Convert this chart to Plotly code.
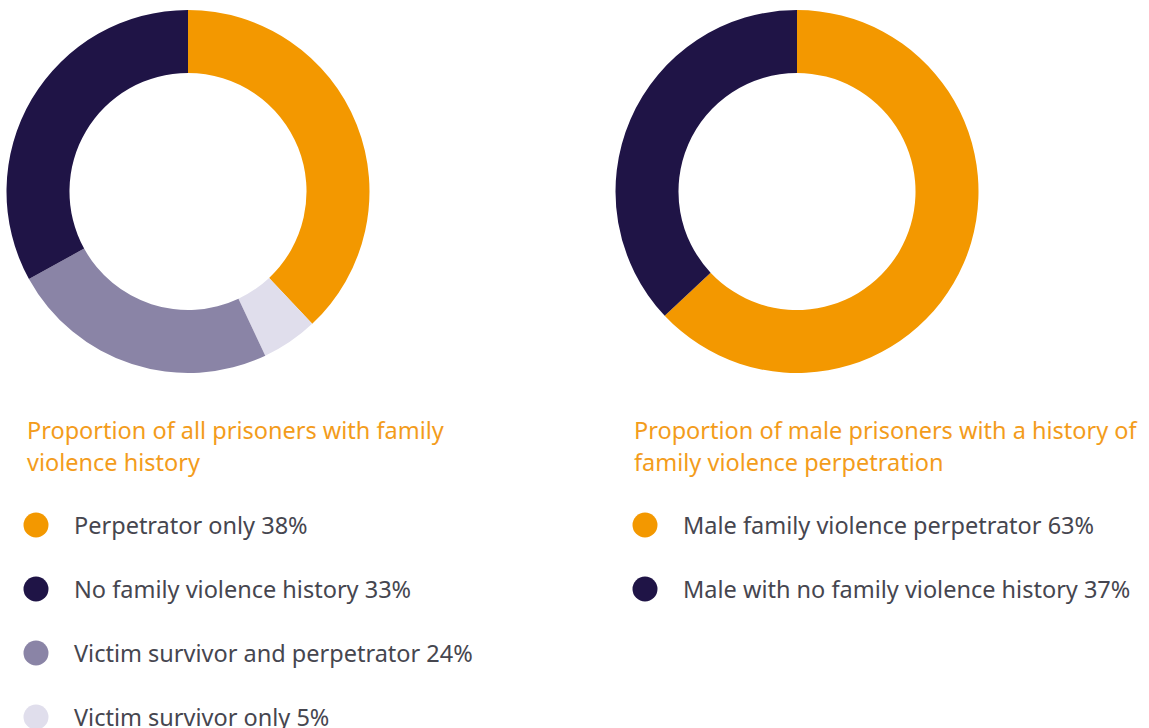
import plotly.graph_objects as go

W, H = 1149, 728

# Left chart data (slice order clockwise from top)
left_labels = ["Perpetrator only", "Victim survivor only", "Victim survivor and perpetrator", "No family violence history"]
left_values = [38, 5, 24, 33]
left_colors = ["#F39800", "#E0DEEC", "#8A84A6", "#1F1446"]

# Left legend order
left_legend_labels = ["Perpetrator only 38%", "No family violence history 33%",
                      "Victim survivor and perpetrator 24%", "Victim survivor only 5%"]
left_legend_colors = ["#F39800", "#1F1446", "#8A84A6", "#E0DEEC"]

# Right chart data
right_labels = ["Male family violence perpetrator", "Male with no family violence history"]
right_values = [63, 37]
right_colors = ["#F39800", "#1F1446"]
right_legend_labels = ["Male family violence perpetrator 63%", "Male with no family violence history 37%"]
right_legend_colors = ["#F39800", "#1F1446"]

left_title = ["Proportion of all prisoners with family", "violence history"]
right_title = ["Proportion of male prisoners with a history of", "family violence perpetration"]

FONT = "Noto Sans"
TEXT_COLOR = "#46464F"
TITLE_COLOR = "#F39C1B"
FS = 23.5

def px_x(x):
    return x / W

def px_y(y):
    return 1 - y / H

R = 181.5
cy = 191.5
fig = go.Figure()
for cx, labels, values, colors in [(188, left_labels, left_values, left_colors),
                                   (797, right_labels, right_values, right_colors)]:
    fig.add_trace(go.Pie(
        labels=labels, values=values, hole=0.653, sort=False, direction="clockwise",
        rotation=0, marker=dict(colors=colors, line=dict(width=0)),
        textinfo="none", hoverinfo="label+percent", showlegend=False,
        domain=dict(x=[px_x(cx - R), px_x(cx + R)], y=[px_y(cy + R), px_y(cy - R)]),
    ))

annotations = []
shapes = []

def add_block(x_text, x_circle, title_lines, labels, colors):
    for i, line in enumerate(title_lines):
        annotations.append(dict(
            x=px_x(x_text - 1), y=px_y(430 + 32 * i), xref="paper", yref="paper",
            xanchor="left", yanchor="middle", showarrow=False, text=line,
            font=dict(family=FONT, size=FS, color=TITLE_COLOR)))
    for i, (lab, col) in enumerate(zip(labels, colors)):
        yc = 525 + 64 * i
        shapes.append(dict(type="circle", xref="paper", yref="paper",
                           x0=px_x(x_circle - 12.5), x1=px_x(x_circle + 12.5),
                           y0=px_y(yc + 12.5), y1=px_y(yc - 12.5),
                           fillcolor=col, line=dict(width=0)))
        annotations.append(dict(
            x=px_x(x_circle + 36), y=px_y(yc), xref="paper", yref="paper",
            xanchor="left", yanchor="middle", showarrow=False, text=lab,
            font=dict(family=FONT, size=FS, color=TEXT_COLOR)))

add_block(26, 36, left_title, left_legend_labels, left_legend_colors)
add_block(633, 645, right_title, right_legend_labels, right_legend_colors)

fig.update_layout(
    width=W, height=H, margin=dict(l=0, r=0, t=0, b=0),
    paper_bgcolor="white", plot_bgcolor="white",
    annotations=annotations, shapes=shapes,
)
fig.write_html("out.html", config={"displayModeBar": False},
               post_script="document.body.style.margin='0';document.body.style.overflow='hidden';")
